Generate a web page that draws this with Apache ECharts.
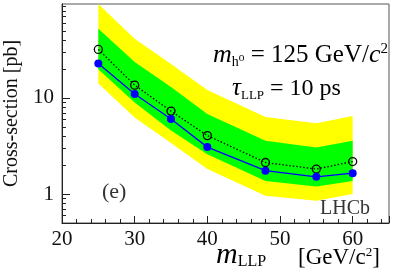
<!DOCTYPE html>
<html>
<head>
<meta charset="utf-8">
<script src="https://cdn.jsdelivr.net/npm/echarts@6/dist/echarts.min.js"></script>
<style>
html,body{margin:0;padding:0;background:#fff;}
#c{width:393px;height:272px;}
</style>
</head>
<body>
<div id="c"></div>
<script>
const masses = [25, 30, 35, 40, 48, 55, 60];
const observed = [22.8, 11.0, 6.05, 3.08, 1.75, 1.51, 1.65];
const expected = [32, 13.6, 7.3, 4.06, 2.13, 1.82, 2.18];
const greenLo = [19.9, 8.96, 4.6, 2.6, 1.37, 1.2, 1.37];
const greenHi = [52.5, 23.7, 13.0, 6.8, 3.58, 3.05, 3.58];
const yellowLo = [14.1, 6.25, 3.4, 1.82, 0.96, 0.85, 1.0];
const yellowHi = [95, 41.4, 22.5, 12.1, 6.35, 5.45, 6.5];
const xTickLabels = [20, 30, 40, 50, 60];
const yTickLabels = [1, 10];
const yMinorTicks = [0.6, 0.7, 0.8, 0.9, 2, 3, 4, 5, 6, 7, 8, 9, 20, 30, 40, 50, 60, 70, 80, 90];

const FONT = "'Liberation Serif', 'DejaVu Serif', serif";
const pair = (xs, ys) => xs.map((x, i) => [x, ys[i]]);

function bandSeries(lo, hi, color, z) {
  return {
    type: 'custom', z: z, silent: true, clip: true,
    data: masses.map((x, i) => [x, lo[i], hi[i]]),
    encode: {x: 0, y: [1, 2]},
    renderItem: function (params, api) {
      if (params.dataIndex !== 0) return null;
      const upper = [], lower = [];
      for (let i = 0; i < masses.length; i++) {
        upper.push(api.coord([masses[i], hi[i]]));
        lower.push(api.coord([masses[i], lo[i]]));
      }
      const pts = upper.concat(lower.reverse());
      return {
        type: 'polygon',
        shape: {points: pts},
        style: {fill: color, stroke: null},
        clipPath: {type: 'rect', shape: {x: params.coordSys.x, y: params.coordSys.y, width: params.coordSys.width, height: params.coordSys.height}}
      };
    }
  };
}

const chart = echarts.init(document.getElementById('c'), null, {renderer: 'canvas'});
chart.setOption({
  animation: false,
  backgroundColor: '#fff',
  grid: {left: 62, right: 4, top: 4, bottom: 49, containLabel: false, outerBoundsMode: 'none', show: true, borderColor: '#555', borderWidth: 1, backgroundColor: 'transparent'},
  xAxis: {
    type: 'value', min: 20, max: 65, interval: 10,
    axisLine: {lineStyle: {color: '#222', width: 1}},
    axisTick: {inside: true, length: 7, lineStyle: {color: '#222'}},
    minorTick: {show: true, splitNumber: 5, length: 4, lineStyle: {color: '#222'}},
    splitLine: {show: false},
    axisLabel: {customValues: xTickLabels, fontFamily: FONT, fontSize: 21, color: '#111', margin: 6}
  },
  yAxis: [{
    type: 'log', min: 0.5, max: 95,
    axisLine: {lineStyle: {color: '#222', width: 1}},
    axisTick: {inside: true, length: 8, customValues: yTickLabels, lineStyle: {color: '#222'}},
    splitLine: {show: false},
    axisLabel: {customValues: yTickLabels, fontFamily: FONT, fontSize: 21, color: '#111', margin: 8},
    name: 'Cross-section [pb]', nameLocation: 'middle', nameGap: 39, nameRotate: 90,
    nameTextStyle: {fontFamily: FONT, fontSize: 20, color: '#111'}
  }, {
    type: 'log', min: 0.5, max: 95, position: 'left',
    axisLine: {show: false},
    axisTick: {inside: true, length: 4, customValues: yMinorTicks, lineStyle: {color: '#222'}},
    splitLine: {show: false},
    axisLabel: {show: false}
  }],
  series: [
    bandSeries(yellowLo, yellowHi, '#ffff00', 1),
    bandSeries(greenLo, greenHi, '#00ff00', 2),
    {type: 'line', data: pair(masses, expected), symbol: 'circle', symbolSize: 8,
     lineStyle: {color: '#000', width: 1.3, type: [1.5, 2]},
     itemStyle: {color: 'transparent', borderColor: '#000', borderWidth: 1.3}, z: 4},
    {type: 'line', data: pair(masses, observed), symbol: 'circle', symbolSize: 8,
     lineStyle: {color: '#0000ff', width: 1.3},
     itemStyle: {color: '#0000ff', borderWidth: 0}, z: 5}
  ],
  graphic: [
    {type: 'text', right: 5, top: 42, z: 10, style: {
      text: '{mi|m}{sub|h⁰}{t| = 125 GeV/}{mi|c}{sup|2}',
      rich: {
        mi: {fontFamily: FONT, fontStyle: 'italic', fontSize: 26, color: '#111', lineHeight: 27},
        t: {fontFamily: FONT, fontSize: 25, color: '#111', lineHeight: 27},
        sub: {fontFamily: FONT, fontSize: 14, color: '#111', lineHeight: 12, verticalAlign: 'bottom'},
        sup: {fontFamily: FONT, fontSize: 15, color: '#111', lineHeight: 12, verticalAlign: 'top'}
      }}},
    {type: 'text', left: 232, top: 76, z: 10, style: {
      text: '{mi|τ}{sub|LLP}{t| = 10 ps}',
      rich: {
        mi: {fontFamily: FONT, fontStyle: 'italic', fontSize: 25, color: '#111', lineHeight: 27},
        t: {fontFamily: FONT, fontSize: 24, color: '#111', lineHeight: 27},
        sub: {fontFamily: FONT, fontSize: 13, color: '#111', lineHeight: 12, verticalAlign: 'bottom'}
      }}},
    {type: 'text', left: 102, top: 181, z: 10, style: {text: '(e)', fontFamily: FONT, fontSize: 22, fill: '#333'}},
    {type: 'text', left: 320, top: 199, z: 10, style: {text: 'LHCb', fontFamily: FONT, fontSize: 20, fill: '#333'}},
    {type: 'text', left: 216, top: 240, z: 10, style: {
      text: '{mi|m}{sub|LLP}',
      rich: {
        mi: {fontFamily: FONT, fontStyle: 'italic', fontSize: 30, color: '#111', lineHeight: 30},
        sub: {fontFamily: FONT, fontSize: 16, color: '#111', lineHeight: 14, verticalAlign: 'bottom'}
      }}},
    {type: 'text', left: 298, top: 246, z: 10, style: {
      text: '{t|[GeV/c}{sup|2}{t|]}',
      rich: {
        t: {fontFamily: FONT, fontSize: 23, color: '#111', lineHeight: 24},
        sup: {fontFamily: FONT, fontSize: 13, color: '#111', lineHeight: 12, verticalAlign: 'top'}
      }}}
  ]
});
</script>
</body>
</html>
